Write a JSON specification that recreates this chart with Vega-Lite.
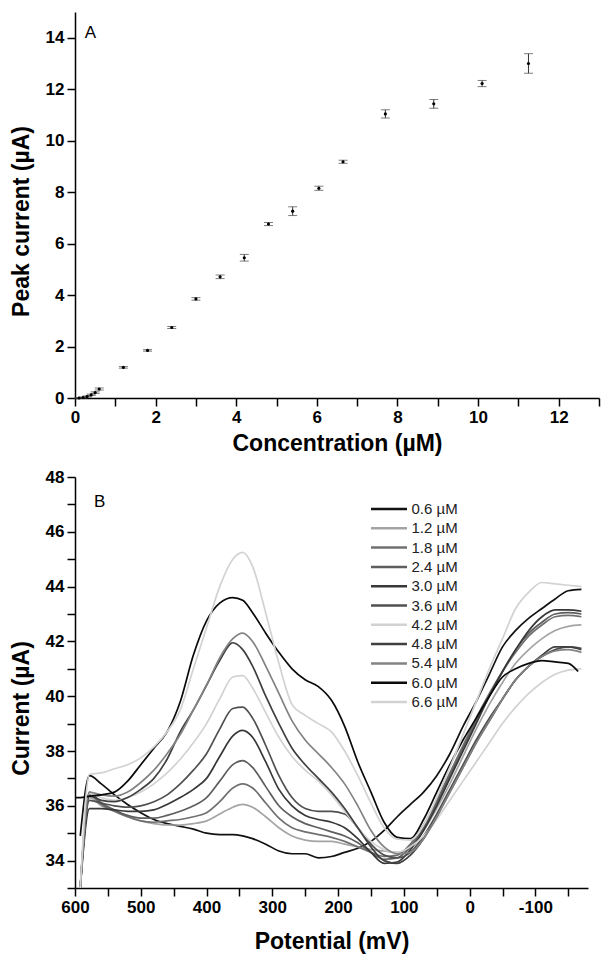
{
  "$schema": "https://vega.github.io/schema/vega-lite/v6.json",
  "background": "white",
  "padding": {"left": 10, "top": 12, "right": 5, "bottom": 5},
  "spacing": 13,
  "columns": 1,
  "align": "none",
  "config": {
    "view": {"stroke": null},
    "font": "Liberation Sans",
    "axis": {
      "grid": false,
      "domainColor": "black",
      "domainWidth": 1.5,
      "tickColor": "black",
      "tickWidth": 1.5,
      "tickSize": 8,
      "labelFlush": false,
      "labelFont": "Liberation Sans",
      "labelFontWeight": "bold",
      "labelFontSize": 17,
      "labelColor": "black",
      "labelPadding": 3,
      "titleFont": "Liberation Sans",
      "titleFontSize": 23,
      "titleFontWeight": "bold",
      "titleColor": "black"
    }
  },
  "concat": [
    {
      "width": 524,
      "height": 386,
      "data": {"values": [
        {"c": 0.1, "y": 0.0, "lo": -0.02, "hi": 0.02},
        {"c": 0.2, "y": 0.02, "lo": 0.0, "hi": 0.04},
        {"c": 0.3, "y": 0.06, "lo": 0.04, "hi": 0.08},
        {"c": 0.4, "y": 0.12, "lo": 0.1, "hi": 0.15},
        {"c": 0.5, "y": 0.21, "lo": 0.18, "hi": 0.24},
        {"c": 0.6, "y": 0.35, "lo": 0.31, "hi": 0.39},
        {"c": 1.2, "y": 1.19, "lo": 1.16, "hi": 1.22},
        {"c": 1.8, "y": 1.85, "lo": 1.82, "hi": 1.88},
        {"c": 2.4, "y": 2.74, "lo": 2.7, "hi": 2.78},
        {"c": 3.0, "y": 3.85, "lo": 3.8, "hi": 3.9},
        {"c": 3.6, "y": 4.71, "lo": 4.64, "hi": 4.78},
        {"c": 4.2, "y": 5.45, "lo": 5.32, "hi": 5.58},
        {"c": 4.8, "y": 6.76, "lo": 6.7, "hi": 6.82},
        {"c": 5.4, "y": 7.26, "lo": 7.09, "hi": 7.43},
        {"c": 6.05, "y": 8.15, "lo": 8.07, "hi": 8.23},
        {"c": 6.65, "y": 9.18, "lo": 9.12, "hi": 9.24},
        {"c": 7.7, "y": 11.04, "lo": 10.88, "hi": 11.2},
        {"c": 8.9, "y": 11.43, "lo": 11.26, "hi": 11.6},
        {"c": 10.1, "y": 12.22, "lo": 12.1, "hi": 12.34},
        {"c": 11.25, "y": 13.0, "lo": 12.62, "hi": 13.38}
      ]},
      "layer": [
        {
          "mark": {"type": "rule", "color": "#333", "strokeWidth": 1},
          "encoding": {
            "x": {"field": "c", "type": "quantitative", "title": "Concentration (µM)",
                  "scale": {"domain": [0, 13], "nice": false},
                  "axis": {"values": [0,1,2,3,4,5,6,7,8,9,10,11,12,13], "labelExpr": "datum.value % 2 === 0 ? datum.label : ''", "titlePadding": 7}},
            "y": {"field": "lo", "type": "quantitative", "title": "Peak current (µA)",
                  "scale": {"domain": [0, 15], "nice": false},
                  "axis": {"values": [0,1,2,3,4,5,6,7,8,9,10,11,12,13,14,15], "labelExpr": "datum.value % 2 === 0 ? datum.label : ''", "titlePadding": 12, "titleY": 209}},
            "y2": {"field": "hi"}
          }
        },
        {
          "mark": {"type": "tick", "orient": "horizontal", "color": "#444", "size": 9, "thickness": 1},
          "encoding": {
            "x": {"field": "c", "type": "quantitative", "title": "Concentration (µM)"},
            "y": {"field": "hi", "type": "quantitative", "title": "Peak current (µA)"}
          }
        },
        {
          "mark": {"type": "tick", "orient": "horizontal", "color": "#444", "size": 9, "thickness": 1},
          "encoding": {
            "x": {"field": "c", "type": "quantitative", "title": "Concentration (µM)"},
            "y": {"field": "lo", "type": "quantitative", "title": "Peak current (µA)"}
          }
        },
        {
          "mark": {"type": "circle", "color": "black", "size": 10, "opacity": 1},
          "encoding": {
            "x": {"field": "c", "type": "quantitative", "title": "Concentration (µM)"},
            "y": {"field": "y", "type": "quantitative", "title": "Peak current (µA)"}
          }
        },
        {
          "data": {"values": [{"t": "A"}]},
          "mark": {"type": "text", "font": "Liberation Sans", "fontSize": 17, "color": "black", "align": "center", "baseline": "middle"},
          "encoding": {
            "x": {"datum": 0.38, "type": "quantitative"},
            "y": {"datum": 14.2, "type": "quantitative"},
            "text": {"field": "t"}
          }
        }
      ]
    },
    {
      "width": 513,
      "height": 411,
      "title": {"text": "B", "anchor": "start", "orient": "top", "frame": "group", "offset": -43, "dx": 19, "font": "Liberation Sans", "fontSize": 17, "fontWeight": "normal", "color": "black"},
      "data": {"values": [
{"s":"0.6 µM","p":592,"i":34.9},{"s":"0.6 µM","p":578,"i":37.1},{"s":"0.6 µM","p":560,"i":36.8},{"s":"0.6 µM","p":540,"i":36.4},{"s":"0.6 µM","p":520,"i":36.05},{"s":"0.6 µM","p":500,"i":35.75},{"s":"0.6 µM","p":480,"i":35.5},{"s":"0.6 µM","p":460,"i":35.35},{"s":"0.6 µM","p":440,"i":35.25},{"s":"0.6 µM","p":420,"i":35.15},{"s":"0.6 µM","p":400,"i":35.0},{"s":"0.6 µM","p":380,"i":34.95},{"s":"0.6 µM","p":360,"i":34.95},{"s":"0.6 µM","p":345,"i":34.9},{"s":"0.6 µM","p":330,"i":34.8},{"s":"0.6 µM","p":310,"i":34.6},{"s":"0.6 µM","p":290,"i":34.35},{"s":"0.6 µM","p":270,"i":34.25},{"s":"0.6 µM","p":250,"i":34.25},{"s":"0.6 µM","p":230,"i":34.1},{"s":"0.6 µM","p":210,"i":34.15},{"s":"0.6 µM","p":190,"i":34.3},{"s":"0.6 µM","p":170,"i":34.45},{"s":"0.6 µM","p":150,"i":34.7},{"s":"0.6 µM","p":130,"i":35.1},{"s":"0.6 µM","p":110,"i":35.6},{"s":"0.6 µM","p":90,"i":36.05},{"s":"0.6 µM","p":70,"i":36.5},{"s":"0.6 µM","p":50,"i":37.1},{"s":"0.6 µM","p":30,"i":37.9},{"s":"0.6 µM","p":10,"i":38.9},{"s":"0.6 µM","p":-10,"i":39.8},{"s":"0.6 µM","p":-30,"i":40.8},{"s":"0.6 µM","p":-50,"i":41.8},{"s":"0.6 µM","p":-70,"i":42.4},{"s":"0.6 µM","p":-90,"i":42.85},{"s":"0.6 µM","p":-110,"i":43.2},{"s":"0.6 µM","p":-130,"i":43.55},{"s":"0.6 µM","p":-150,"i":43.85},{"s":"0.6 µM","p":-170,"i":43.9},
{"s":"1.2 µM","p":592,"i":33.0},{"s":"1.2 µM","p":578,"i":36.3},{"s":"1.2 µM","p":560,"i":36.0},{"s":"1.2 µM","p":540,"i":35.8},{"s":"1.2 µM","p":520,"i":35.6},{"s":"1.2 µM","p":500,"i":35.45},{"s":"1.2 µM","p":480,"i":35.35},{"s":"1.2 µM","p":460,"i":35.3},{"s":"1.2 µM","p":440,"i":35.3},{"s":"1.2 µM","p":420,"i":35.35},{"s":"1.2 µM","p":400,"i":35.45},{"s":"1.2 µM","p":380,"i":35.7},{"s":"1.2 µM","p":360,"i":35.95},{"s":"1.2 µM","p":345,"i":36.05},{"s":"1.2 µM","p":330,"i":35.95},{"s":"1.2 µM","p":310,"i":35.6},{"s":"1.2 µM","p":290,"i":35.2},{"s":"1.2 µM","p":270,"i":34.9},{"s":"1.2 µM","p":250,"i":34.75},{"s":"1.2 µM","p":230,"i":34.7},{"s":"1.2 µM","p":210,"i":34.7},{"s":"1.2 µM","p":190,"i":34.6},{"s":"1.2 µM","p":170,"i":34.5},{"s":"1.2 µM","p":150,"i":34.4},{"s":"1.2 µM","p":130,"i":34.35},{"s":"1.2 µM","p":110,"i":34.3},{"s":"1.2 µM","p":90,"i":34.5},{"s":"1.2 µM","p":70,"i":35.1},{"s":"1.2 µM","p":50,"i":35.9},{"s":"1.2 µM","p":30,"i":36.8},{"s":"1.2 µM","p":10,"i":37.8},{"s":"1.2 µM","p":-10,"i":38.8},{"s":"1.2 µM","p":-30,"i":39.7},{"s":"1.2 µM","p":-50,"i":40.5},{"s":"1.2 µM","p":-70,"i":41.2},{"s":"1.2 µM","p":-90,"i":41.7},{"s":"1.2 µM","p":-110,"i":42.1},{"s":"1.2 µM","p":-130,"i":42.4},{"s":"1.2 µM","p":-150,"i":42.55},{"s":"1.2 µM","p":-170,"i":42.6},
{"s":"1.8 µM","p":592,"i":33.0},{"s":"1.8 µM","p":578,"i":36.4},{"s":"1.8 µM","p":560,"i":36.05},{"s":"1.8 µM","p":540,"i":35.8},{"s":"1.8 µM","p":520,"i":35.6},{"s":"1.8 µM","p":500,"i":35.45},{"s":"1.8 µM","p":480,"i":35.4},{"s":"1.8 µM","p":460,"i":35.45},{"s":"1.8 µM","p":440,"i":35.5},{"s":"1.8 µM","p":420,"i":35.6},{"s":"1.8 µM","p":400,"i":35.75},{"s":"1.8 µM","p":380,"i":36.15},{"s":"1.8 µM","p":360,"i":36.65},{"s":"1.8 µM","p":345,"i":36.8},{"s":"1.8 µM","p":330,"i":36.65},{"s":"1.8 µM","p":310,"i":36.1},{"s":"1.8 µM","p":290,"i":35.55},{"s":"1.8 µM","p":270,"i":35.2},{"s":"1.8 µM","p":250,"i":35.05},{"s":"1.8 µM","p":230,"i":34.95},{"s":"1.8 µM","p":210,"i":34.85},{"s":"1.8 µM","p":190,"i":34.7},{"s":"1.8 µM","p":170,"i":34.5},{"s":"1.8 µM","p":150,"i":34.3},{"s":"1.8 µM","p":130,"i":34.15},{"s":"1.8 µM","p":110,"i":34.2},{"s":"1.8 µM","p":90,"i":34.6},{"s":"1.8 µM","p":70,"i":35.3},{"s":"1.8 µM","p":50,"i":36.2},{"s":"1.8 µM","p":30,"i":37.2},{"s":"1.8 µM","p":10,"i":38.2},{"s":"1.8 µM","p":-10,"i":39.2},{"s":"1.8 µM","p":-30,"i":40.1},{"s":"1.8 µM","p":-50,"i":40.9},{"s":"1.8 µM","p":-70,"i":41.6},{"s":"1.8 µM","p":-90,"i":42.2},{"s":"1.8 µM","p":-110,"i":42.6},{"s":"1.8 µM","p":-130,"i":42.9},{"s":"1.8 µM","p":-150,"i":42.95},{"s":"1.8 µM","p":-170,"i":42.9},
{"s":"2.4 µM","p":592,"i":33.0},{"s":"2.4 µM","p":578,"i":36.5},{"s":"2.4 µM","p":560,"i":36.1},{"s":"2.4 µM","p":540,"i":35.85},{"s":"2.4 µM","p":520,"i":35.65},{"s":"2.4 µM","p":500,"i":35.55},{"s":"2.4 µM","p":480,"i":35.55},{"s":"2.4 µM","p":460,"i":35.65},{"s":"2.4 µM","p":440,"i":35.8},{"s":"2.4 µM","p":420,"i":36.0},{"s":"2.4 µM","p":400,"i":36.3},{"s":"2.4 µM","p":380,"i":36.9},{"s":"2.4 µM","p":360,"i":37.5},{"s":"2.4 µM","p":345,"i":37.65},{"s":"2.4 µM","p":330,"i":37.4},{"s":"2.4 µM","p":310,"i":36.7},{"s":"2.4 µM","p":290,"i":36.0},{"s":"2.4 µM","p":270,"i":35.6},{"s":"2.4 µM","p":250,"i":35.35},{"s":"2.4 µM","p":230,"i":35.2},{"s":"2.4 µM","p":210,"i":35.05},{"s":"2.4 µM","p":190,"i":34.9},{"s":"2.4 µM","p":170,"i":34.65},{"s":"2.4 µM","p":150,"i":34.3},{"s":"2.4 µM","p":130,"i":34.05},{"s":"2.4 µM","p":110,"i":34.1},{"s":"2.4 µM","p":90,"i":34.5},{"s":"2.4 µM","p":70,"i":35.2},{"s":"2.4 µM","p":50,"i":36.1},{"s":"2.4 µM","p":30,"i":37.1},{"s":"2.4 µM","p":10,"i":38.1},{"s":"2.4 µM","p":-10,"i":39.1},{"s":"2.4 µM","p":-30,"i":40.0},{"s":"2.4 µM","p":-50,"i":40.9},{"s":"2.4 µM","p":-70,"i":41.7},{"s":"2.4 µM","p":-90,"i":42.3},{"s":"2.4 µM","p":-110,"i":42.7},{"s":"2.4 µM","p":-130,"i":43.0},{"s":"2.4 µM","p":-150,"i":43.05},{"s":"2.4 µM","p":-170,"i":43.0},
{"s":"3.0 µM","p":592,"i":33.0},{"s":"3.0 µM","p":578,"i":35.9},{"s":"3.0 µM","p":560,"i":35.9},{"s":"3.0 µM","p":540,"i":35.85},{"s":"3.0 µM","p":520,"i":35.8},{"s":"3.0 µM","p":500,"i":35.8},{"s":"3.0 µM","p":480,"i":35.85},{"s":"3.0 µM","p":460,"i":36.05},{"s":"3.0 µM","p":440,"i":36.3},{"s":"3.0 µM","p":420,"i":36.6},{"s":"3.0 µM","p":400,"i":37.0},{"s":"3.0 µM","p":380,"i":37.8},{"s":"3.0 µM","p":360,"i":38.55},{"s":"3.0 µM","p":345,"i":38.75},{"s":"3.0 µM","p":330,"i":38.5},{"s":"3.0 µM","p":310,"i":37.6},{"s":"3.0 µM","p":290,"i":36.6},{"s":"3.0 µM","p":270,"i":36.0},{"s":"3.0 µM","p":250,"i":35.65},{"s":"3.0 µM","p":230,"i":35.5},{"s":"3.0 µM","p":210,"i":35.4},{"s":"3.0 µM","p":190,"i":35.2},{"s":"3.0 µM","p":170,"i":34.8},{"s":"3.0 µM","p":150,"i":34.3},{"s":"3.0 µM","p":130,"i":33.9},{"s":"3.0 µM","p":110,"i":33.95},{"s":"3.0 µM","p":90,"i":34.4},{"s":"3.0 µM","p":70,"i":35.1},{"s":"3.0 µM","p":50,"i":36.0},{"s":"3.0 µM","p":30,"i":37.0},{"s":"3.0 µM","p":10,"i":38.0},{"s":"3.0 µM","p":-10,"i":39.0},{"s":"3.0 µM","p":-30,"i":40.0},{"s":"3.0 µM","p":-50,"i":40.9},{"s":"3.0 µM","p":-70,"i":41.7},{"s":"3.0 µM","p":-90,"i":42.4},{"s":"3.0 µM","p":-110,"i":42.9},{"s":"3.0 µM","p":-130,"i":43.15},{"s":"3.0 µM","p":-150,"i":43.15},{"s":"3.0 µM","p":-170,"i":43.1},
{"s":"3.6 µM","p":592,"i":33.0},{"s":"3.6 µM","p":578,"i":36.2},{"s":"3.6 µM","p":560,"i":36.1},{"s":"3.6 µM","p":540,"i":36.0},{"s":"3.6 µM","p":520,"i":35.95},{"s":"3.6 µM","p":500,"i":36.0},{"s":"3.6 µM","p":480,"i":36.15},{"s":"3.6 µM","p":460,"i":36.4},{"s":"3.6 µM","p":440,"i":36.8},{"s":"3.6 µM","p":420,"i":37.3},{"s":"3.6 µM","p":400,"i":37.9},{"s":"3.6 µM","p":380,"i":38.8},{"s":"3.6 µM","p":360,"i":39.55},{"s":"3.6 µM","p":345,"i":39.6},{"s":"3.6 µM","p":330,"i":39.2},{"s":"3.6 µM","p":310,"i":38.2},{"s":"3.6 µM","p":290,"i":37.1},{"s":"3.6 µM","p":270,"i":36.3},{"s":"3.6 µM","p":250,"i":35.9},{"s":"3.6 µM","p":230,"i":35.8},{"s":"3.6 µM","p":210,"i":35.8},{"s":"3.6 µM","p":190,"i":35.7},{"s":"3.6 µM","p":170,"i":35.2},{"s":"3.6 µM","p":150,"i":34.6},{"s":"3.6 µM","p":130,"i":34.2},{"s":"3.6 µM","p":110,"i":34.1},{"s":"3.6 µM","p":90,"i":34.3},{"s":"3.6 µM","p":70,"i":34.9},{"s":"3.6 µM","p":50,"i":35.7},{"s":"3.6 µM","p":30,"i":36.6},{"s":"3.6 µM","p":10,"i":37.5},{"s":"3.6 µM","p":-10,"i":38.4},{"s":"3.6 µM","p":-30,"i":39.2},{"s":"3.6 µM","p":-50,"i":39.9},{"s":"3.6 µM","p":-70,"i":40.6},{"s":"3.6 µM","p":-90,"i":41.1},{"s":"3.6 µM","p":-110,"i":41.45},{"s":"3.6 µM","p":-130,"i":41.7},{"s":"3.6 µM","p":-150,"i":41.8},{"s":"3.6 µM","p":-170,"i":41.75},
{"s":"4.2 µM","p":592,"i":33.0},{"s":"4.2 µM","p":578,"i":36.45},{"s":"4.2 µM","p":560,"i":36.3},{"s":"4.2 µM","p":540,"i":36.2},{"s":"4.2 µM","p":520,"i":36.3},{"s":"4.2 µM","p":500,"i":36.5},{"s":"4.2 µM","p":480,"i":36.8},{"s":"4.2 µM","p":460,"i":37.2},{"s":"4.2 µM","p":440,"i":37.7},{"s":"4.2 µM","p":420,"i":38.3},{"s":"4.2 µM","p":400,"i":39.0},{"s":"4.2 µM","p":380,"i":39.9},{"s":"4.2 µM","p":360,"i":40.7},{"s":"4.2 µM","p":345,"i":40.75},{"s":"4.2 µM","p":330,"i":40.3},{"s":"4.2 µM","p":310,"i":39.4},{"s":"4.2 µM","p":290,"i":38.5},{"s":"4.2 µM","p":270,"i":37.8},{"s":"4.2 µM","p":250,"i":37.3},{"s":"4.2 µM","p":230,"i":36.9},{"s":"4.2 µM","p":210,"i":36.4},{"s":"4.2 µM","p":190,"i":35.8},{"s":"4.2 µM","p":170,"i":35.2},{"s":"4.2 µM","p":150,"i":34.7},{"s":"4.2 µM","p":130,"i":34.4},{"s":"4.2 µM","p":110,"i":34.3},{"s":"4.2 µM","p":90,"i":34.5},{"s":"4.2 µM","p":70,"i":34.9},{"s":"4.2 µM","p":50,"i":35.5},{"s":"4.2 µM","p":30,"i":36.2},{"s":"4.2 µM","p":10,"i":36.9},{"s":"4.2 µM","p":-10,"i":37.6},{"s":"4.2 µM","p":-30,"i":38.3},{"s":"4.2 µM","p":-50,"i":39.0},{"s":"4.2 µM","p":-70,"i":39.6},{"s":"4.2 µM","p":-90,"i":40.1},{"s":"4.2 µM","p":-110,"i":40.5},{"s":"4.2 µM","p":-130,"i":40.8},{"s":"4.2 µM","p":-150,"i":40.95},{"s":"4.2 µM","p":-170,"i":41.0},
{"s":"4.8 µM","p":592,"i":33.0},{"s":"4.8 µM","p":578,"i":36.35},{"s":"4.8 µM","p":560,"i":36.2},{"s":"4.8 µM","p":540,"i":36.15},{"s":"4.8 µM","p":520,"i":36.3},{"s":"4.8 µM","p":500,"i":36.6},{"s":"4.8 µM","p":480,"i":37.0},{"s":"4.8 µM","p":460,"i":37.7},{"s":"4.8 µM","p":440,"i":38.7},{"s":"4.8 µM","p":420,"i":39.5},{"s":"4.8 µM","p":400,"i":40.4},{"s":"4.8 µM","p":380,"i":41.3},{"s":"4.8 µM","p":360,"i":41.95},{"s":"4.8 µM","p":345,"i":41.7},{"s":"4.8 µM","p":330,"i":41.1},{"s":"4.8 µM","p":310,"i":40.0},{"s":"4.8 µM","p":290,"i":39.0},{"s":"4.8 µM","p":270,"i":38.1},{"s":"4.8 µM","p":250,"i":37.5},{"s":"4.8 µM","p":230,"i":37.0},{"s":"4.8 µM","p":210,"i":36.5},{"s":"4.8 µM","p":190,"i":35.9},{"s":"4.8 µM","p":170,"i":35.2},{"s":"4.8 µM","p":150,"i":34.5},{"s":"4.8 µM","p":130,"i":34.0},{"s":"4.8 µM","p":110,"i":33.9},{"s":"4.8 µM","p":90,"i":34.2},{"s":"4.8 µM","p":70,"i":34.8},{"s":"4.8 µM","p":50,"i":35.6},{"s":"4.8 µM","p":30,"i":36.5},{"s":"4.8 µM","p":10,"i":37.4},{"s":"4.8 µM","p":-10,"i":38.3},{"s":"4.8 µM","p":-30,"i":39.1},{"s":"4.8 µM","p":-50,"i":39.9},{"s":"4.8 µM","p":-70,"i":40.6},{"s":"4.8 µM","p":-90,"i":41.1},{"s":"4.8 µM","p":-110,"i":41.5},{"s":"4.8 µM","p":-130,"i":41.8},{"s":"4.8 µM","p":-150,"i":41.8},{"s":"4.8 µM","p":-170,"i":41.7},
{"s":"5.4 µM","p":592,"i":33.0},{"s":"5.4 µM","p":578,"i":36.5},{"s":"5.4 µM","p":560,"i":36.4},{"s":"5.4 µM","p":540,"i":36.35},{"s":"5.4 µM","p":520,"i":36.5},{"s":"5.4 µM","p":500,"i":36.85},{"s":"5.4 µM","p":480,"i":37.3},{"s":"5.4 µM","p":460,"i":37.9},{"s":"5.4 µM","p":440,"i":38.6},{"s":"5.4 µM","p":420,"i":39.5},{"s":"5.4 µM","p":400,"i":40.4},{"s":"5.4 µM","p":380,"i":41.4},{"s":"5.4 µM","p":360,"i":42.1},{"s":"5.4 µM","p":345,"i":42.3},{"s":"5.4 µM","p":330,"i":42.0},{"s":"5.4 µM","p":310,"i":41.1},{"s":"5.4 µM","p":290,"i":40.1},{"s":"5.4 µM","p":270,"i":39.1},{"s":"5.4 µM","p":250,"i":38.4},{"s":"5.4 µM","p":230,"i":37.9},{"s":"5.4 µM","p":210,"i":37.4},{"s":"5.4 µM","p":190,"i":36.8},{"s":"5.4 µM","p":170,"i":36.0},{"s":"5.4 µM","p":150,"i":35.1},{"s":"5.4 µM","p":130,"i":34.5},{"s":"5.4 µM","p":110,"i":34.25},{"s":"5.4 µM","p":90,"i":34.3},{"s":"5.4 µM","p":70,"i":34.8},{"s":"5.4 µM","p":50,"i":35.6},{"s":"5.4 µM","p":30,"i":36.5},{"s":"5.4 µM","p":10,"i":37.4},{"s":"5.4 µM","p":-10,"i":38.3},{"s":"5.4 µM","p":-30,"i":39.1},{"s":"5.4 µM","p":-50,"i":39.9},{"s":"5.4 µM","p":-70,"i":40.6},{"s":"5.4 µM","p":-90,"i":41.1},{"s":"5.4 µM","p":-110,"i":41.45},{"s":"5.4 µM","p":-130,"i":41.65},{"s":"5.4 µM","p":-150,"i":41.7},{"s":"5.4 µM","p":-170,"i":41.6},
{"s":"6.0 µM","p":600,"i":36.3},{"s":"6.0 µM","p":592,"i":36.3},{"s":"6.0 µM","p":578,"i":36.35},{"s":"6.0 µM","p":560,"i":36.4},{"s":"6.0 µM","p":540,"i":36.5},{"s":"6.0 µM","p":520,"i":36.9},{"s":"6.0 µM","p":500,"i":37.5},{"s":"6.0 µM","p":480,"i":38.1},{"s":"6.0 µM","p":460,"i":38.7},{"s":"6.0 µM","p":440,"i":39.8},{"s":"6.0 µM","p":420,"i":41.5},{"s":"6.0 µM","p":400,"i":42.75},{"s":"6.0 µM","p":380,"i":43.4},{"s":"6.0 µM","p":360,"i":43.6},{"s":"6.0 µM","p":345,"i":43.5},{"s":"6.0 µM","p":330,"i":43.05},{"s":"6.0 µM","p":310,"i":42.3},{"s":"6.0 µM","p":290,"i":41.6},{"s":"6.0 µM","p":270,"i":41.0},{"s":"6.0 µM","p":250,"i":40.6},{"s":"6.0 µM","p":230,"i":40.35},{"s":"6.0 µM","p":210,"i":39.85},{"s":"6.0 µM","p":190,"i":38.9},{"s":"6.0 µM","p":170,"i":37.6},{"s":"6.0 µM","p":150,"i":36.5},{"s":"6.0 µM","p":130,"i":35.4},{"s":"6.0 µM","p":110,"i":34.85},{"s":"6.0 µM","p":90,"i":34.8},{"s":"6.0 µM","p":70,"i":35.5},{"s":"6.0 µM","p":50,"i":36.5},{"s":"6.0 µM","p":30,"i":37.5},{"s":"6.0 µM","p":10,"i":38.4},{"s":"6.0 µM","p":-10,"i":39.2},{"s":"6.0 µM","p":-30,"i":40.0},{"s":"6.0 µM","p":-50,"i":40.7},{"s":"6.0 µM","p":-70,"i":41.0},{"s":"6.0 µM","p":-90,"i":41.2},{"s":"6.0 µM","p":-110,"i":41.3},{"s":"6.0 µM","p":-130,"i":41.25},{"s":"6.0 µM","p":-150,"i":41.2},{"s":"6.0 µM","p":-165,"i":40.9},
{"s":"6.6 µM","p":592,"i":33.0},{"s":"6.6 µM","p":578,"i":37.15},{"s":"6.6 µM","p":560,"i":37.2},{"s":"6.6 µM","p":540,"i":37.35},{"s":"6.6 µM","p":520,"i":37.5},{"s":"6.6 µM","p":500,"i":37.75},{"s":"6.6 µM","p":480,"i":38.15},{"s":"6.6 µM","p":460,"i":38.7},{"s":"6.6 µM","p":440,"i":39.5},{"s":"6.6 µM","p":420,"i":41.0},{"s":"6.6 µM","p":400,"i":42.5},{"s":"6.6 µM","p":380,"i":44.0},{"s":"6.6 µM","p":360,"i":45.0},{"s":"6.6 µM","p":345,"i":45.25},{"s":"6.6 µM","p":330,"i":44.74},{"s":"6.6 µM","p":310,"i":43.04},{"s":"6.6 µM","p":290,"i":41.2},{"s":"6.6 µM","p":270,"i":39.7},{"s":"6.6 µM","p":250,"i":39.3},{"s":"6.6 µM","p":230,"i":39.0},{"s":"6.6 µM","p":210,"i":38.7},{"s":"6.6 µM","p":190,"i":38.0},{"s":"6.6 µM","p":170,"i":37.1},{"s":"6.6 µM","p":150,"i":36.1},{"s":"6.6 µM","p":130,"i":35.2},{"s":"6.6 µM","p":110,"i":34.78},{"s":"6.6 µM","p":90,"i":34.75},{"s":"6.6 µM","p":70,"i":35.3},{"s":"6.6 µM","p":50,"i":36.3},{"s":"6.6 µM","p":30,"i":37.4},{"s":"6.6 µM","p":10,"i":38.6},{"s":"6.6 µM","p":-10,"i":39.8},{"s":"6.6 µM","p":-30,"i":41.0},{"s":"6.6 µM","p":-50,"i":42.1},{"s":"6.6 µM","p":-70,"i":43.2},{"s":"6.6 µM","p":-90,"i":43.8},{"s":"6.6 µM","p":-110,"i":44.15},{"s":"6.6 µM","p":-130,"i":44.1},{"s":"6.6 µM","p":-150,"i":44.05},{"s":"6.6 µM","p":-170,"i":44.0}
      ]},
      "mark": {"type": "line", "strokeWidth": 1.7, "interpolate": "monotone"},
      "encoding": {
        "x": {"field": "p", "type": "quantitative", "title": "Potential (mV)",
              "scale": {"domain": [-180, 600], "reverse": true, "nice": false},
              "axis": {"values": [600,550,500,450,400,350,300,250,200,150,100,50,0,-50,-100,-150], "labelExpr": "datum.value % 100 === 0 ? '' + datum.value : ''", "titlePadding": 15}},
        "y": {"field": "i", "type": "quantitative", "title": "Current (µA)",
              "scale": {"domain": [33, 48], "nice": false},
              "axis": {"values": [33,34,35,36,37,38,39,40,41,42,43,44,45,46,47,48], "labelExpr": "datum.value % 2 === 0 ? datum.label : ''", "titlePadding": 12, "titleY": 231}},
        "color": {"field": "s", "type": "nominal",
                  "scale": {"domain": ["0.6 µM","1.2 µM","1.8 µM","2.4 µM","3.0 µM","3.6 µM","4.2 µM","4.8 µM","5.4 µM","6.0 µM","6.6 µM"],
                            "range": ["#111111","#a4a4a4","#707070","#5e5e5e","#383838","#505050","#d2d2d2","#404040","#838383","#0a0a0a","#d2d2d2"]},
                  "legend": {"title": null, "orient": "none", "legendX": 318.5, "legendY": 489.5, "padding": 0,
                             "symbolType": "M-5,0H1", "symbolSize": 144, "symbolStrokeWidth": 2.5,
                             "labelFont": "Liberation Sans", "labelFontSize": 15, "labelColor": "#222", "labelFontWeight": "normal",
                             "labelOffset": 3, "rowPadding": 3.3}}
      }
    }
  ]
}
